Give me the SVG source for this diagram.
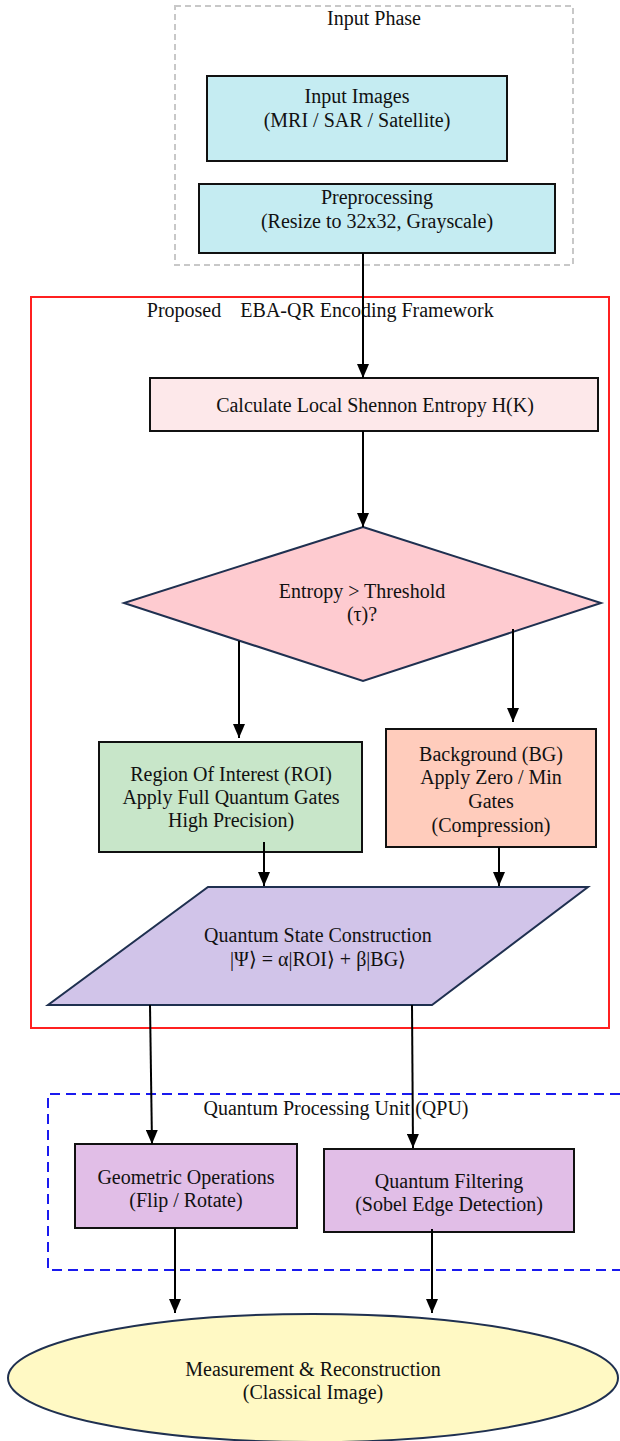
<svg xmlns="http://www.w3.org/2000/svg" width="620" height="1441" viewBox="0 0 620 1441">
<style>
text{font-family:"Liberation Serif","Times New Roman",serif;font-size:20px;fill:#111;text-anchor:middle}
.box{stroke:#111;stroke-width:2}
.nv{stroke:#1f3050;stroke-width:2}
.edge{stroke:#000;stroke-width:2;fill:none;marker-end:url(#ah)}
</style>
<defs>
<marker id="ah" markerUnits="userSpaceOnUse" markerWidth="14" markerHeight="12" refX="14" refY="6" orient="auto" viewBox="0 0 14 12">
<path d="M0,0 L14,6 L0,12 z" fill="#000"/>
</marker>
</defs>
<rect width="620" height="1441" fill="#fff"/>
<g id="cluster-input">
<rect x="175" y="6" width="398" height="259" fill="none" stroke="#c8c8c8" stroke-width="2" stroke-dasharray="6,4"/>
<text x="374" y="25">Input Phase</text>
</g>
<g id="cluster-eba">
<rect x="31" y="297" width="578" height="731" fill="none" stroke="#ff2020" stroke-width="2"/>
<text x="184" y="317">Proposed</text>
<text x="367" y="317">EBA-QR Encoding Framework</text>
</g>
<g id="cluster-qpu">
<path d="M620,1094 H48 V1270 H620" fill="none" stroke="#1a1aee" stroke-width="2" stroke-dasharray="10,6"/>
<text x="336" y="1115">Quantum Processing Unit (QPU)</text>
</g>
<g id="n-input">
<rect class="box" x="207" y="76" width="300" height="85" fill="#c5ecf2"/>
<text x="357" y="103">Input Images</text>
<text x="357" y="127">(MRI / SAR / Satellite)</text>
</g>
<g id="n-pre">
<rect class="box" x="199" y="184" width="356" height="69" fill="#c5ecf2"/>
<text x="377" y="204">Preprocessing</text>
<text x="377" y="228">(Resize to 32x32, Grayscale)</text>
</g>
<g id="n-calc">
<rect class="box" x="150" y="378" width="448" height="53" fill="#fde8ea"/>
<text x="375" y="412">Calculate Local Shennon Entropy H(K)</text>
</g>
<g id="n-decision">
<polygon class="nv" points="363,527 601,603 363,681 124,603" fill="#fecbd0"/>
<text x="362" y="598">Entropy &gt; Threshold</text>
<text x="362" y="621">(τ)?</text>
</g>
<g id="n-roi">
<rect class="box" x="99" y="742" width="263" height="110" fill="#c8e6c9"/>
<text x="231" y="781">Region Of Interest (ROI)</text>
<text x="231" y="804">Apply Full Quantum Gates</text>
<text x="231" y="827">High Precision)</text>
</g>
<g id="n-bg">
<rect class="box" x="386" y="729" width="210" height="118" fill="#ffccbc"/>
<text x="491" y="761">Background (BG)</text>
<text x="491" y="784">Apply Zero / Min</text>
<text x="491" y="808">Gates</text>
<text x="491" y="832">(Compression)</text>
</g>
<g id="n-state">
<polygon class="nv" points="208,887 588,887 432,1005 48,1005" fill="#d1c4e9"/>
<text x="318" y="942">Quantum State Construction</text>
<text x="318" y="966">|Ψ⟩ = α|ROI⟩ + β|BG⟩</text>
</g>
<g id="n-geo">
<rect class="box" x="75" y="1144" width="222" height="84" fill="#e1bee7"/>
<text x="186" y="1184">Geometric Operations</text>
<text x="186" y="1207">(Flip / Rotate)</text>
</g>
<g id="n-filter">
<rect class="box" x="324" y="1149" width="250" height="83" fill="#e1bee7"/>
<text x="449" y="1188">Quantum Filtering</text>
<text x="449" y="1211">(Sobel Edge Detection)</text>
</g>
<g id="n-measure">
<ellipse class="nv" cx="313" cy="1378" rx="305" ry="64" fill="#fff9c4"/>
<text x="313" y="1376">Measurement &amp; Reconstruction</text>
<text x="313" y="1399">(Classical Image)</text>
</g>
<g id="connectors">
<path class="edge" d="M363,253 V378"/>
<path class="edge" d="M363,431 V527"/>
<path class="edge" d="M239,641 V738"/>
<path class="edge" d="M513,629 V722"/>
<path class="edge" d="M264,842 V886"/>
<path class="edge" d="M499,847 V886"/>
<path class="edge" d="M150,1005 L152,1144"/>
<path class="edge" d="M412,1005 L413,1148"/>
<path class="edge" d="M175,1228 V1313"/>
<path class="edge" d="M432,1229 V1313"/>
</g>
</svg>
